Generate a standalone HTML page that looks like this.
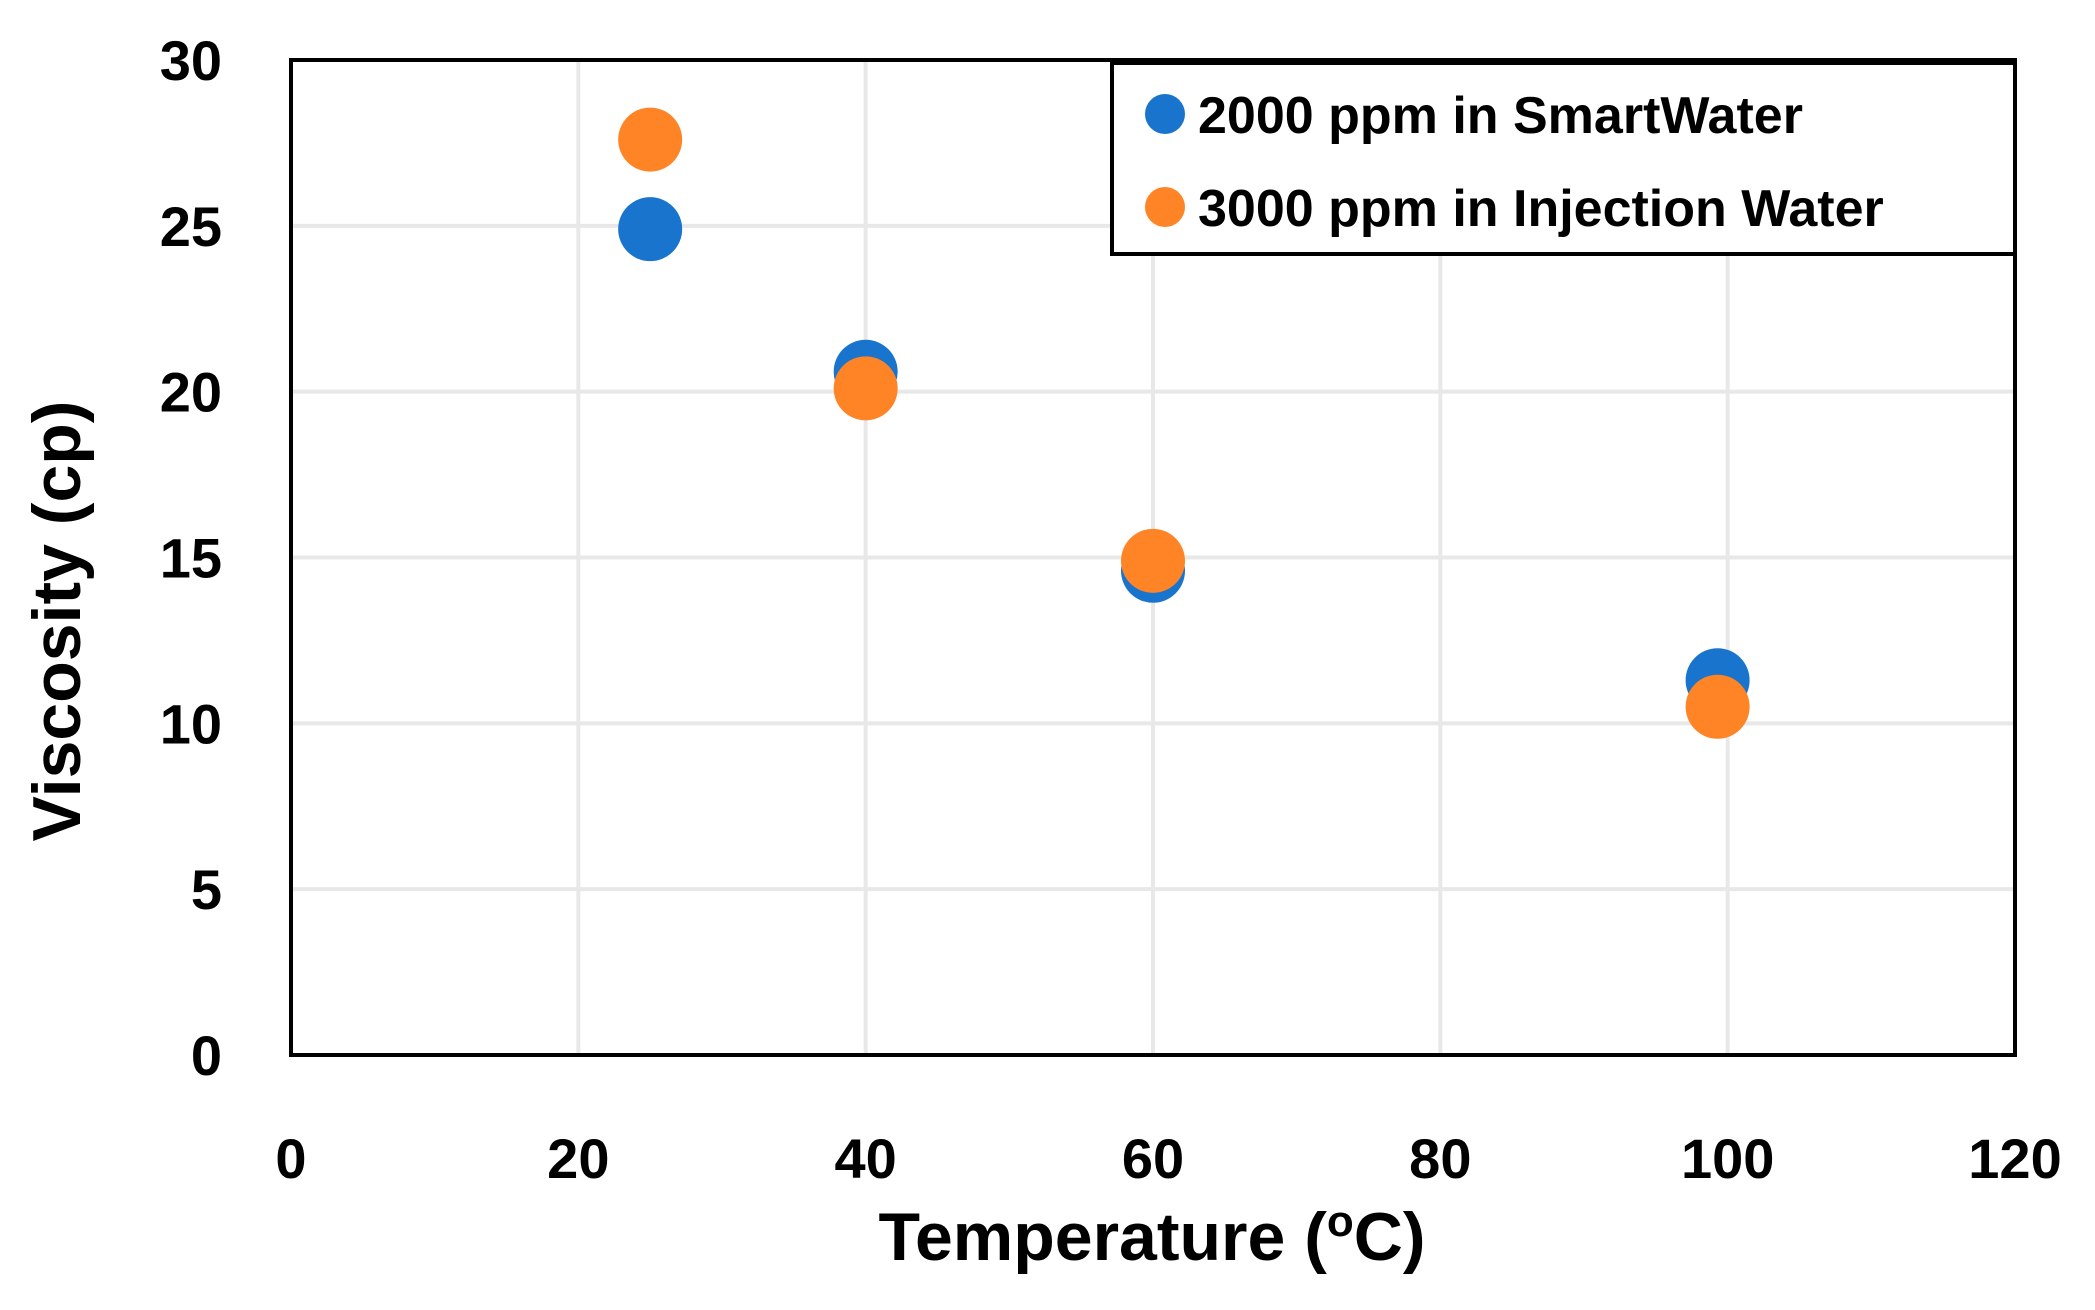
<!DOCTYPE html>
<html><head><meta charset="utf-8"><style>
html,body{margin:0;padding:0;background:#fff;}
svg{display:block;font-family:"Liberation Sans",Arial,sans-serif;font-weight:bold;}
</style></head><body>
<svg id="chart" width="2095" height="1310" viewBox="0 0 2095 1310" xmlns="http://www.w3.org/2000/svg">
<g id="grid"></g>
<g id="ticks"></g>
<rect x="291" y="60" width="1724" height="995" fill="none" stroke="#000" stroke-width="4"/>
<g id="marks"></g>
<text transform="translate(80,621) rotate(-90)" text-anchor="middle" font-size="68">Viscosity (cp)</text>
<text x="1152" y="1260" text-anchor="middle" font-size="68">Temperature (<tspan font-size="44" dy="-24">o</tspan><tspan dy="24">C)</tspan></text>
<g>
<rect x="1112" y="63" width="903" height="191" fill="#fff" stroke="#000" stroke-width="4"/>
<circle cx="1165" cy="114" r="20" fill="#1874CD"/>
<text x="1198" y="133" font-size="52">2000 ppm in SmartWater</text>
<circle cx="1165" cy="207" r="20" fill="#FF8426"/>
<text x="1198" y="226" font-size="52">3000 ppm in Injection Water</text>
</g>
</svg>
<script>
const xTicks = [0, 20, 40, 60, 80, 100, 120];
const yTicks = [0, 5, 10, 15, 20, 25, 30];
const temps = [25, 40, 60, 99.3];
const smartWater = [24.9, 20.6, 14.6, 11.3];
const injectionWater = [27.6, 20.1, 14.9, 10.5];

const L = 291, R = 2015, T = 60, B = 1055;
function xs(v){ return L + (v - 0) / 120 * (R - L); }
function ys(v){ return B - (v - 0) / 30 * (B - T); }
const NS = "http://www.w3.org/2000/svg";
const grid = document.getElementById('grid');
const ticks = document.getElementById('ticks');
const marks = document.getElementById('marks');
function mk(tag, attrs, parent){
  const e = document.createElementNS(NS, tag);
  for (const k in attrs) e.setAttribute(k, attrs[k]);
  parent.appendChild(e);
  return e;
}
xTicks.forEach(function(t){
  if (t > 0 && t < 120) {
    const l = mk('line', {x1: xs(t), x2: xs(t), y1: T, y2: B, stroke: '#e8e8e8', 'stroke-width': 4}, grid);
    
    
  }
  const tx = mk('text', {x: xs(t), y: 1178, 'text-anchor': 'middle', 'font-size': 56}, ticks);
  
  
  tx.textContent = t;
});
yTicks.forEach(function(t){
  if (t > 0 && t < 30) {
    const l = mk('line', {x1: L, x2: R, y1: ys(t), y2: ys(t), stroke: '#e8e8e8', 'stroke-width': 4}, grid);
    
    
  }
  const tx = mk('text', {x: 222, y: ys(t) + 20, 'text-anchor': 'end', 'font-size': 56}, ticks);
  
  
  tx.textContent = t;
});
temps.forEach(function(t, i){
  const c = mk('circle', {cx: xs(t), cy: ys(smartWater[i]), r: 32, fill: '#1874CD'}, marks);
  
  
});
temps.forEach(function(t, i){
  const c = mk('circle', {cx: xs(t), cy: ys(injectionWater[i]), r: 32, fill: '#FF8426'}, marks);
  
  
});
</script>
</body></html>
